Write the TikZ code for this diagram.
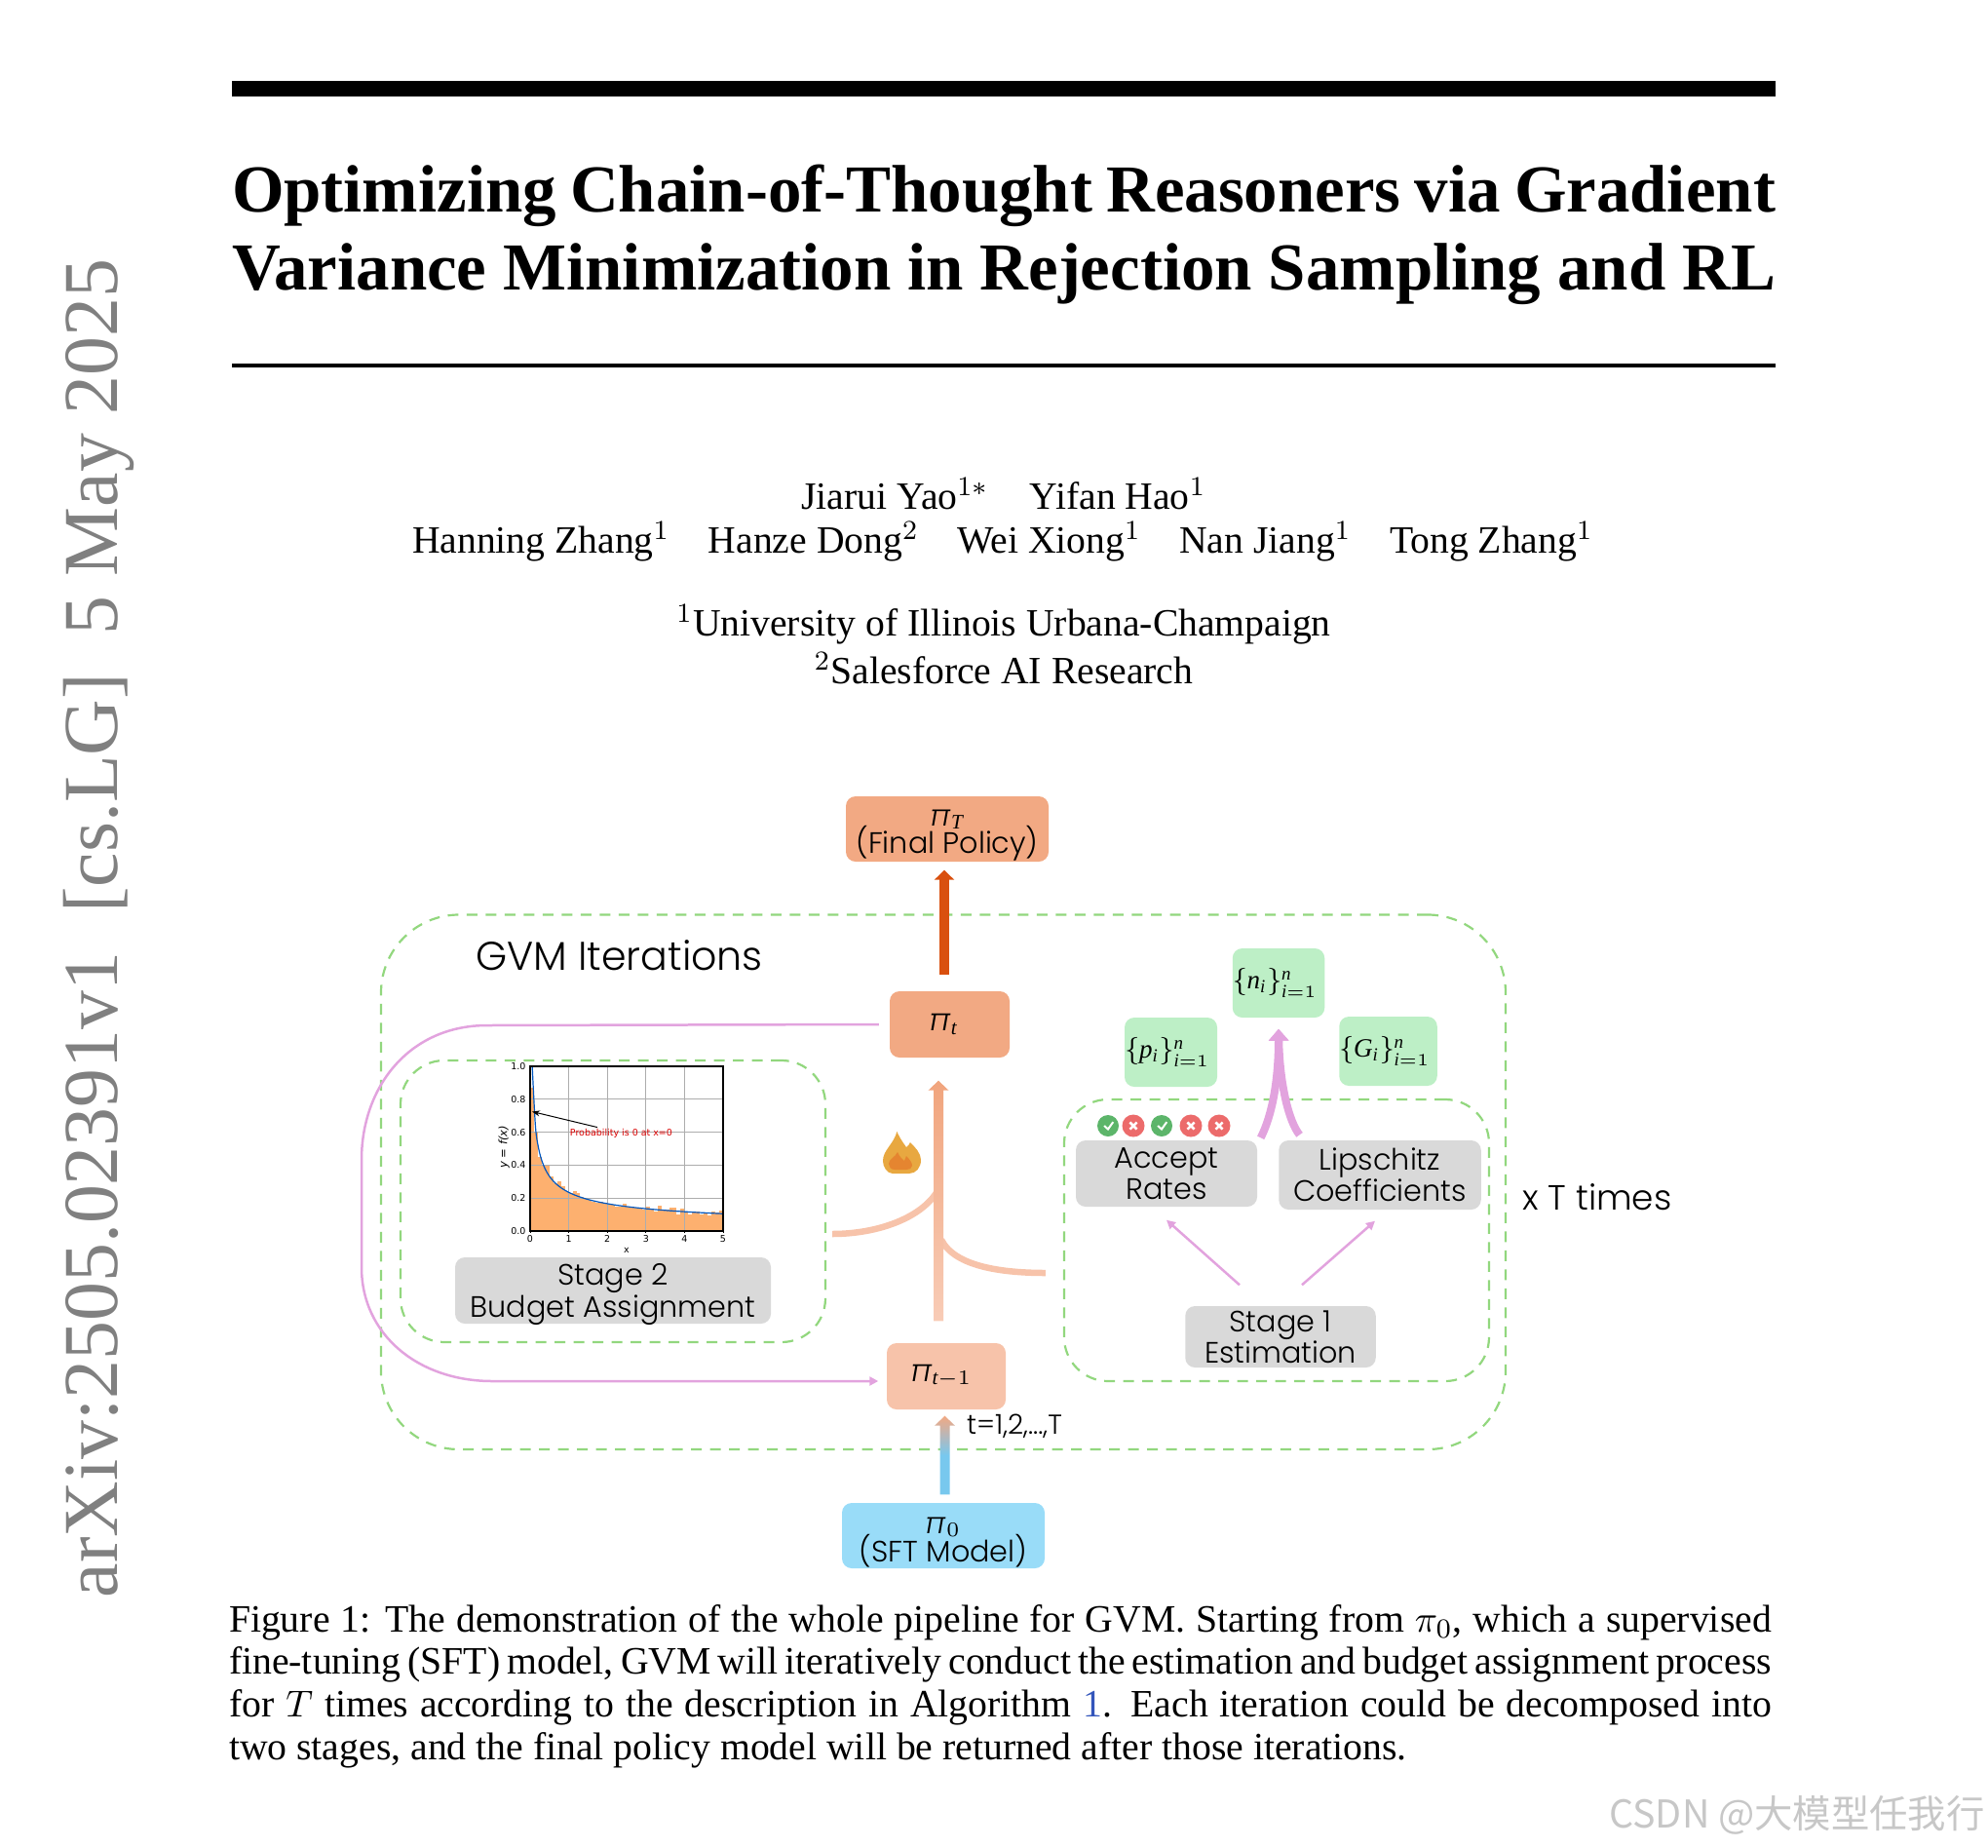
\documentclass[tikz,border=0pt]{standalone}
\usepackage{fontspec}
\usepackage{xcolor}
\usetikzlibrary{calc,arrows.meta}
\setmainfont{Liberation Serif}
\newfontfamily\hand{Poppins}[UprightFont=* Light]
\newfontfamily\plotfont{DejaVu Sans}
\newfontfamily\cjk{Noto Sans CJK SC}
\definecolor{fin}{HTML}{F2A983}
\definecolor{prev}{HTML}{F7C3AA}
\definecolor{sft}{HTML}{99DCF8}
\definecolor{sftline}{HTML}{78C8EE}
\definecolor{mixgray}{HTML}{B4B8BC}
\definecolor{sets}{HTML}{BDEFC6}
\definecolor{stagegray}{HTML}{D9D9D9}
\definecolor{dashgreen}{HTML}{92D77E}
\definecolor{pinkish}{HTML}{E2A3DE}
\definecolor{burnt}{HTML}{D9500F}
\definecolor{hist}{HTML}{FDB06F}
\definecolor{okgreen}{HTML}{5CB56A}
\definecolor{nored}{HTML}{EC6B6B}
\definecolor{flame}{HTML}{E8A840}
\definecolor{flamein}{HTML}{E58530}
\definecolor{reflink}{HTML}{3355BB}
\pgfdeclareverticalshading{sftshade}{100bp}{color(0bp)=(sftline);color(50bp)=(sftline);color(62bp)=(mixgray);color(75bp)=(fin);color(100bp)=(fin)}
\newcommand{\gradarrow}[3]{%
  \shade[#3] (#2) -- ($(#2)+(.105,.10)$) -- ($(#2)+(.05,.10)$) -- ($(#1)+(.05,0)$)
    -- ($(#1)+(-.05,0)$) -- ($(#2)+(-.05,.10)$) -- ($(#2)+(-.105,.10)$) -- cycle;}
\newcommand{\mypi}{\mbox{\itshape π}}
\newcommand{\mi}[1]{\mathit{#1}}

\begin{document}
\begin{tikzpicture}[y=-1cm,>=Latex,
  box/.style={rounded corners=0.1cm,inner sep=0pt,align=center,font=\hand\fontsize{8.6}{9.2}\selectfont},
  frame/.style={draw=dashgreen,line width=0.022cm,dash pattern=on 0.11cm off 0.085cm,inner sep=0pt},
  pinkline/.style={pinkish,line width=0.025cm,-{Triangle[length=0.09cm,width=0.09cm]}},
  pinkfat/.style={pinkish,line width=0.08cm,-{Triangle[length=0.12cm,width=0.2cm]}},
  branch/.style={prev,line width=0.065cm},
  plotlab/.style={inner sep=0pt,font=\plotfont\fontsize{2.7}{3}\selectfont},
  okdot/.style={circle,fill=okgreen,minimum size=0.22cm,inner sep=0pt,path picture={
    \draw[white,line width=0.02cm] ([xshift=-1.1pt]path picture bounding box.center) -- ([yshift=-1pt]path picture bounding box.center) -- ([xshift=1.5pt,yshift=1.1pt]path picture bounding box.center);}},
  nodot/.style={circle,fill=nored,minimum size=0.23cm,inner sep=0pt,path picture={
    \draw[white,line width=0.025cm] ([xshift=-1pt,yshift=-1pt]path picture bounding box.center) -- ([xshift=1pt,yshift=1pt]path picture bounding box.center);
    \draw[white,line width=0.025cm] ([xshift=-1pt,yshift=1pt]path picture bounding box.center) -- ([xshift=1pt,yshift=-1pt]path picture bounding box.center);}}]
\useasboundingbox (0,0) rectangle (20.4,18.96);

% ---- page: header
\node[rotate=90,anchor=base west,inner sep=0pt,text=black!50,font=\fontsize{22.7}{24}\selectfont] (stamp) at (1.20,16.40)
  {arXiv:2505.02391v1\hspace{0.5em}[cs.LG]\hspace{0.5em}5 May 2025};
\draw[line width=0.16cm] (2.38,0.91) -- (18.22,0.91);
\draw[line width=0.04cm] (2.38,3.75) -- (18.22,3.75);
\node[align=left,inner sep=0pt,font=\bfseries\fontsize{19.6}{22.9}\selectfont] (title) at (10.30,2.41)
  {\hbox to 15.84cm{Optimizing Chain-of-Thought Reasoners via Gradient}\\\hbox to 15.84cm{Variance Minimization in Rejection Sampling and RL}};
\node[align=center,inner sep=0pt,font=\fontsize{11.27}{13}\selectfont] (authorsa) at (10.30,5.07)
  {Jiarui Yao$^{1*}$\hspace{1.08em}Yifan Hao$^{1}$};
\node[align=center,inner sep=0pt,font=\fontsize{11.27}{13}\selectfont] (authorsb) at (10.29,5.56)
  {Hanning Zhang$^{1}$\hspace{1em}Hanze Dong$^{2}$\hspace{1em}Wei Xiong$^{1}$\hspace{1em}Nan Jiang$^{1}$\hspace{1em}Tong Zhang$^{1}$};
\node[align=center,inner sep=0pt,font=\fontsize{11.27}{13}\selectfont] (affila) at (10.30,6.41) {$^{1}$University of Illinois Urbana-Champaign};
\node[align=center,inner sep=0pt,font=\fontsize{11.27}{13}\selectfont] (affilb) at (10.30,6.86) {$^{2}$Salesforce AI Research};

% ---- frames
\node[frame,rounded corners=0.8cm,minimum width=11.54cm,minimum height=5.485cm] (gvm) at (9.68,12.1275) {};
\node[frame,rounded corners=0.45cm,minimum width=4.36cm,minimum height=2.89cm] (framebudget) at (6.29,12.325) {};
\node[frame,rounded corners=0.45cm,minimum width=4.36cm,minimum height=2.89cm] (frameest) at (13.10,12.725) {};
\node[font=\hand\fontsize{11.7}{13}\selectfont,inner sep=0pt] (gvmlabel) at (6.355,9.80) {GVM Iterations};
\node[font=\hand\fontsize{10.2}{12}\selectfont,inner sep=0pt] (times) at (16.39,12.285) {x T times};

% ---- policies
\node[box,fill=fin,minimum width=2.08cm,minimum height=0.67cm] (piT) at (9.72,8.505) {\rule{0pt}{8.5pt}$\mypi_{\mi{T}}$\hspace{3pt}\\[-1pt](Final Policy)};
\node[box,fill=fin,minimum width=1.23cm,minimum height=0.68cm] (pit) at (9.745,10.51) {\fontsize{9}{10}\selectfont$\mypi_{\mi{t}}$\hspace{3.5pt}};
\node[box,fill=prev,minimum width=1.22cm,minimum height=0.68cm] (pitm) at (9.71,14.12) {\fontsize{9}{10}\selectfont$\mypi_{\mi{t}-1}$\hspace{3pt}};
\node[box,fill=sft,minimum width=2.08cm,minimum height=0.67cm] (pizero) at (9.68,15.755) {\rule{0pt}{8.5pt}$\mypi_{0}$\\[-1pt](SFT Model)};
\node[font=\hand\fontsize{8}{9}\selectfont,inner sep=0pt] (tlabel) at (10.41,14.63) {t=1,2,...,T};

% ---- stage boxes
\node[box,fill=stagegray,minimum width=3.24cm,minimum height=0.68cm] (stagetwo) at (6.29,13.24) {Stage 2\\\raisebox{0pt}[\height][0pt]{Budget Assignment}};
\node[box,fill=stagegray,minimum width=1.86cm,minimum height=0.68cm] (accept) at (11.97,12.04) {Accept\\Rates};
\node[box,fill=stagegray,minimum width=2.075cm,minimum height=0.71cm] (lipschitz) at (14.16,12.055) {Lipschitz\\Coefficients};
\node[box,fill=stagegray,minimum width=1.955cm,minimum height=0.63cm] (stageone) at (13.14,13.715) {Stage 1\\Estimation};

% ---- estimated sets
\node[box,fill=sets,minimum width=0.94cm,minimum height=0.71cm] (nset) at (13.12,10.085) {\fontsize{7.7}{10}\selectfont$\{\mi{n}_{\mi{i}}\}_{\mi{i}=1}^{\mi{n}}$\hspace{2pt}};
\node[box,fill=sets,minimum width=0.95cm,minimum height=0.71cm] (pset) at (12.015,10.795) {\fontsize{7.7}{10}\selectfont$\{\mi{p}_{\mi{i}}\}_{\mi{i}=1}^{\mi{n}}$\hspace{2pt}};
\node[box,fill=sets,minimum width=0.95cm,minimum height=0.71cm] (gset) at (14.245,10.785) {\fontsize{7.7}{10}\selectfont$\{\mi{G}_{\mi{i}}\}_{\mi{i}=1}^{\mi{n}}$\hspace{2pt}};

% ---- accept / reject marks
\node[okdot] (marka) at (11.37,11.55) {};
\node[nodot] (markb) at (11.63,11.55) {};
\node[okdot] (markc) at (11.92,11.55) {};
\node[nodot] (markd) at (12.22,11.55) {};
\node[nodot] (marke) at (12.51,11.55) {};

% ---- connectors
\draw[burnt,line width=0.1cm,-{Triangle[length=0.10cm,width=0.2cm]}] ([xshift=-0.055cm,yshift=0.165cm]pit.north) -- ([xshift=-0.03cm,yshift=-0.08cm]piT.south);
\draw[pinkline] ([xshift=-0.105cm]pit.west) -- (5.0,10.52) .. controls (4.2,10.52) and (3.71,11.15) .. (3.71,11.9) -- (3.71,13.0) .. controls (3.71,13.7) and (4.3,14.17) .. (5.05,14.17) -- ([xshift=-0.08cm,yshift=-0.05cm]pitm.west);
\draw[branch] ([xshift=0.06cm,yshift=-0.335cm]framebudget.east) .. controls (9.0,12.66) and (9.45,12.50) .. (9.62,12.22);
\draw[branch] ([xshift=-0.18cm,yshift=-0.335cm]frameest.west) .. controls (10.3,13.06) and (9.8,13.0) .. (9.66,12.72);
\coordinate (maintail) at ([xshift=-0.08cm,yshift=0.22cm]pitm.north);
\coordinate (maintip) at ([xshift=-0.115cm,yshift=-0.23cm]pit.south);
\gradarrow{maintail}{maintip}{top color=fin!95!burnt,bottom color=prev!85!white}
\coordinate (sfttail) at ([xshift=0.015cm,yshift=0.08cm]pizero.north);
\coordinate (sfttip) at ([xshift=-0.015cm,yshift=-0.06cm]pitm.south);
\gradarrow{sfttail}{sfttip}{shading=sftshade}
\draw[pinkline] ([xshift=-0.42cm,yshift=0.21cm]stageone.north) -- ([yshift=-0.13cm]accept.south);
\draw[pinkline] ([xshift=0.22cm,yshift=0.21cm]stageone.north) -- ([xshift=-0.05cm,yshift=-0.11cm]lipschitz.south);
\draw[pinkfat] ([xshift=0.03cm,yshift=0.02cm]accept.north east) .. controls (13.05,11.45) and (13.12,11.1) .. ([yshift=-0.11cm]nset.south);
\draw[pinkfat] ([xshift=0.22cm,yshift=0.05cm]lipschitz.north west) .. controls (13.22,11.5) and (13.13,11.1) .. ([yshift=-0.11cm]nset.south);

% ---- flame
\fill[flame] (9.204,11.61) .. controls (9.24,11.69) and (9.28,11.74) .. (9.30,11.77) .. controls (9.32,11.76) and (9.33,11.74) .. (9.34,11.72)
  .. controls (9.39,11.77) and (9.45,11.83) .. (9.45,11.90) .. controls (9.45,11.98) and (9.40,12.04) .. (9.33,12.04) -- (9.16,12.04)
  .. controls (9.10,12.04) and (9.06,11.97) .. (9.06,11.91) .. controls (9.06,11.80) and (9.17,11.74) .. cycle;
\fill[flamein] (9.21,11.82) .. controls (9.23,11.87) and (9.26,11.89) .. (9.28,11.91) .. controls (9.29,11.89) .. (9.30,11.86)
  .. controls (9.34,11.90) and (9.36,11.93) .. (9.36,11.96) .. controls (9.36,11.99) and (9.33,12.00) .. (9.30,12.00) -- (9.18,12.00)
  .. controls (9.14,12.00) and (9.12,11.97) .. (9.12,11.94) .. controls (9.12,11.89) and (9.19,11.87) .. cycle;

% ---- small plot in the budget frame
\begin{scope}[shift={(5.44,12.63)},x=0.396cm,y=1.69cm]
  \foreach \h [count=\i from 0] in {.87,.6,.45,.40,.40,.33,.29,.30,.27,.24,.23,.24,.23,.21,.20,.19,.18,.17,.18,.17,.16,.16,.15,.15,.165,.15,.14,.14,.14,.13,.15,.13,.12,.155,.13,.13,.145,.145,.10,.135,.11,.10,.12,.12,.10,.105,.095,.12,.11,.125}
    \fill[hist] ({\i*0.1},0) rectangle ({\i*0.1+0.1},\h);
  \foreach \t in {1,2,3,4} \draw[black!32,line width=0.011cm] (\t,0) -- (\t,1);
  \foreach \t in {0.2,0.4,0.6,0.8} \draw[black!32,line width=0.011cm] (0,\t) -- (5,\t);
  \draw[red!80!black,densely dotted,line width=0.008cm] (0,0) -- (0,0.8);
  \draw[blue!55!cyan!75!black,line width=0.012cm,smooth] plot[domain=0.056:5,samples=60] (\x,{0.235/sqrt(\x)});
  \draw[line width=0.011cm] (0,0) rectangle (5,1);
  \foreach \t in {0,1,2,3,4,5} {
    \draw[line width=0.008cm] (\t,0) -- (\t,-0.012);
    \node[plotlab] (xt\t) at (\t,-0.05) {\t};
  }
  \foreach \t in {0.0,0.2,0.4,0.6,0.8,1.0} {
    \draw[line width=0.008cm] (0,\t) -- (-0.035,\t);
    \node[plotlab,anchor=east] (yt\t) at (-0.1,\t) {\t};
  }
  \node[plotlab] (xname) at (2.5,-0.118) {x};
  \node[plotlab,rotate=90,font=\plotfont\fontsize{3.3}{4}\selectfont] (yname) at (-0.68,0.51) {\itshape y = f(x)};
  \node[plotlab,text=red!85!black] (note) at (2.36,0.59) {Probability is 0 at x=0};
  \draw[-{Stealth[length=0.08cm,width=0.06cm]},line width=0.01cm] (1.74,0.63) -- (0.05,0.725);
\end{scope}

% ---- caption and site mark
\node[align=left,inner sep=0pt,font=\fontsize{11.3}{12.4}\selectfont] (caption) at (10.265,17.30)
  {\hbox to 15.83cm{Figure 1: The demonstration of the whole pipeline for GVM. Starting from $\pi_0$, which a supervised}\\
  \hbox to 15.83cm{fine-tuning (SFT) model, GVM will iteratively conduct the estimation and budget assignment process}\\
  \hbox to 15.83cm{for $T$ times according to the description in Algorithm {\color{reflink}1}. Each iteration could be decomposed into}\\
  two stages, and the final policy model will be returned after those iterations.};
\node[text=black!22,inner sep=0pt,font=\cjk\fontsize{11.2}{13}\selectfont] (sitemark) at (18.44,18.62) {CSDN @大模型任我行};
\end{tikzpicture}
\end{document}
